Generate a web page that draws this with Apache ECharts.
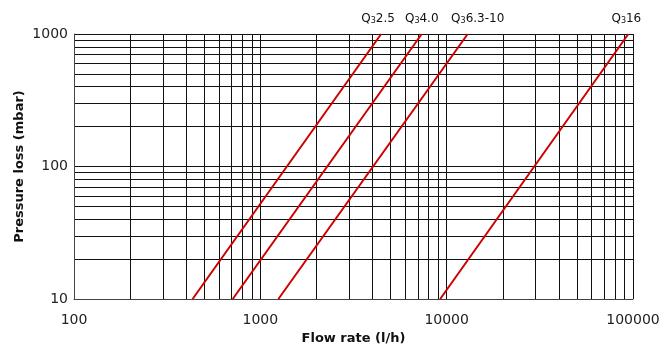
<!DOCTYPE html>
<html><head><meta charset="utf-8">
<script src="https://cdn.jsdelivr.net/npm/echarts@6/dist/echarts.min.js"></script>
<style>html,body{margin:0;padding:0;background:#fff}#c{width:668px;height:346px}</style>
</head><body><div id="c"></div>
<script>
const seriesNames = ['2.5', '4.0', '6.3-10', '16'];
const flowAt10 = [433, 711, 1250, 9230];
const flowAt1000 = [4450, 7350, 12970, 94400];
const pressureEnds = [10, 1000];
const xTicks = [100, 1000, 10000, 100000];
const yTicks = [10, 100, 1000];

const labelOffsets = [[-3, 0], [0, 0], [10, 0], [-2, 0]];
const chart = echarts.init(document.getElementById('c'));
const FONT = 'DejaVu Sans';
const series = seriesNames.map((n, i) => ({
  type: 'line',
  name: n,
  symbol: 'circle',
  symbolSize: 0,
  showSymbol: true,
  lineStyle: { color: '#cc0000', width: 2 },
  itemStyle: { color: '#cc0000' },
  z: 5,
  data: [
    [flowAt10[i], pressureEnds[0]],
    {
      value: [flowAt1000[i], pressureEnds[1]],
      label: {
        show: true, position: 'top', distance: 9, offset: labelOffsets[i],
        formatter: '{q|Q}{s|3}{q|' + n + '}',
        rich: {
          q: { fontSize: 12, fontFamily: FONT, color: '#111', lineHeight: 16, verticalAlign: 'bottom' },
          s: { fontSize: 8, fontFamily: FONT, color: '#111', lineHeight: 8, verticalAlign: 'bottom' }
        }
      }
    }
  ]
}));

chart.setOption({
  animation: false,
  grid: { left: 74, right: 35, top: 34, bottom: 47, outerBoundsMode: 'none', containLabel: false },
  xAxis: {
    type: 'log', logBase: 10, min: xTicks[0], max: xTicks[xTicks.length - 1],
    name: 'Flow rate (l/h)', nameLocation: 'middle', nameGap: 31,
    nameTextStyle: { fontFamily: FONT, fontWeight: 'bold', fontSize: 13, color: '#111' },
    axisLine: { show: true, lineStyle: { color: '#444', width: 1 } },
    axisTick: { show: false },
    minorTick: { show: false, splitNumber: 9 },
    axisLabel: { fontFamily: FONT, fontSize: 14, color: '#222', margin: 14, formatter: v => String(Math.round(v)) },
    splitLine: { show: true, lineStyle: { color: '#111', width: 1 } },
    minorSplitLine: { show: true, lineStyle: { color: '#111', width: 1 } }
  },
  yAxis: {
    type: 'log', logBase: 10, min: yTicks[0], max: yTicks[yTicks.length - 1],
    name: 'Pressure loss (mbar)', nameLocation: 'middle', nameGap: 48, nameMoveOverlap: false,
    nameTextStyle: { fontFamily: FONT, fontWeight: 'bold', fontSize: 13, color: '#111' },
    axisLine: { show: true, lineStyle: { color: '#444', width: 1 } },
    axisTick: { show: false },
    minorTick: { show: false, splitNumber: 9 },
    axisLabel: { fontFamily: FONT, fontSize: 14, color: '#222', margin: 6, formatter: v => String(Math.round(v)) },
    splitLine: { show: true, lineStyle: { color: '#111', width: 1 } },
    minorSplitLine: { show: true, lineStyle: { color: '#111', width: 1 } }
  },
  series: series
});
</script></body></html>
